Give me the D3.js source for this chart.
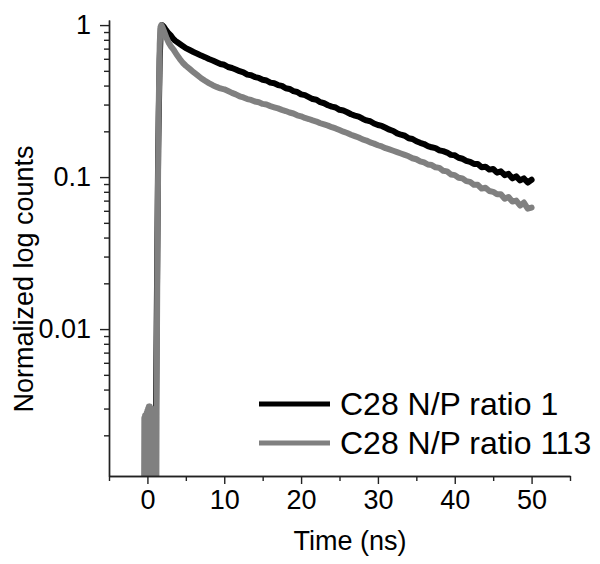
<!DOCTYPE html>
<html>
<head>
<meta charset="utf-8">
<script src="https://cdn.jsdelivr.net/npm/d3@7/dist/d3.min.js"></script>
<style>
  html, body { margin: 0; padding: 0; background: #fff; }
  svg { display: block; font-family: "Liberation Sans", Arial, sans-serif; }
</style>
</head>
<body>
<svg id="chart" width="600" height="564"></svg>
<script>
// ---- Data ----
const seriesNames = ["C28 N/P ratio 1", "C28 N/P ratio 113"];
const seriesColors = ["#000000", "#808080"];

// Time (ns), normalized counts — N/P ratio 1
const timeRatio1 = [1.0, 1.2, 1.4, 1.6, 1.75, 1.9, 2.1, 2.4, 2.7, 3.0, 3.3, 3.6, 4.0, 4.5, 5.0, 5.5, 6.0, 6.5, 7.0, 7.5, 8.0, 8.5, 9.0, 9.5,
  10.0, 10.5, 11.0, 11.5, 12.0, 12.5, 13.0, 13.5, 14.0, 14.5, 15.0, 15.5, 16.0, 16.5, 17.0, 17.5, 18.0, 18.5, 19.0, 19.5,
  20.0, 20.5, 21.0, 21.5, 22.0, 22.5, 23.0, 23.5, 24.0, 24.5, 25.0, 25.5, 26.0, 26.5, 27.0, 27.5, 28.0, 28.5, 29.0, 29.5,
  30.0, 30.5, 31.0, 31.5, 32.0, 32.5, 33.0, 33.5, 34.0, 34.5, 35.0, 35.5, 36.0, 36.5, 37.0, 37.5, 38.0, 38.5, 39.0, 39.5,
  40.0, 40.5, 41.0, 41.5, 42.0, 42.5, 43.0, 43.5, 44.0, 44.5, 45.0, 45.5, 46.0, 46.5, 47.0, 47.5, 48.0, 48.5, 49.0, 49.5, 50.0];
const countsRatio1 = [0.0005, 0.01, 0.15, 0.6, 0.95, 1.0, 0.98, 0.93, 0.89, 0.86, 0.82, 0.79, 0.765, 0.735, 0.705, 0.685, 0.665, 0.648, 0.63, 0.615, 0.598, 0.585, 0.57, 0.555,
  0.548, 0.530, 0.522, 0.510, 0.497, 0.488, 0.472, 0.468, 0.455, 0.449, 0.437, 0.432, 0.418, 0.414, 0.403, 0.398, 0.384, 0.380, 0.368, 0.363,
  0.350, 0.346, 0.336, 0.326, 0.323, 0.311, 0.306, 0.297, 0.291, 0.287, 0.277, 0.274, 0.267, 0.259, 0.254, 0.250, 0.242, 0.236, 0.233, 0.225,
  0.220, 0.217, 0.211, 0.205, 0.201, 0.194, 0.190, 0.187, 0.180, 0.178, 0.172, 0.168, 0.165, 0.160, 0.157, 0.155, 0.150, 0.148, 0.145, 0.140,
  0.139, 0.134, 0.132, 0.128, 0.126, 0.122, 0.122, 0.116, 0.117, 0.112, 0.113, 0.107, 0.109, 0.103, 0.105, 0.098, 0.101, 0.095, 0.098, 0.092, 0.096];

// Time (ns), normalized counts — N/P ratio 113
const timeRatio113 = [-0.45, -0.4, -0.35, -0.3, -0.25, -0.2, -0.15, -0.1, -0.05, 0.0, 0.05, 0.1, 0.15, 0.2, 0.25, 0.3, 0.35, 0.4, 0.45, 0.5,
  0.55, 0.6, 0.65, 0.7, 0.75, 0.8, 0.85, 0.9, 0.95, 1.0, 1.05, 1.1, 1.15, 1.2, 1.3, 1.45, 1.6, 1.7, 1.8, 1.95,
  2.2, 2.5, 2.8, 3.1, 3.4, 3.8, 4.2, 4.6, 5.0, 5.5, 6.0, 6.5, 7.0, 7.5, 8.0, 8.5, 9.0, 9.5,
  10.0, 10.5, 11.0, 11.5, 12.0, 12.5, 13.0, 13.5, 14.0, 14.5, 15.0, 15.5, 16.0, 16.5, 17.0, 17.5, 18.0, 18.5, 19.0, 19.5,
  20.0, 20.5, 21.0, 21.5, 22.0, 22.5, 23.0, 23.5, 24.0, 24.5, 25.0, 25.5, 26.0, 26.5, 27.0, 27.5, 28.0, 28.5, 29.0, 29.5,
  30.0, 30.5, 31.0, 31.5, 32.0, 32.5, 33.0, 33.5, 34.0, 34.5, 35.0, 35.5, 36.0, 36.5, 37.0, 37.5, 38.0, 38.5, 39.0, 39.5,
  40.0, 40.5, 41.0, 41.5, 42.0, 42.5, 43.0, 43.5, 44.0, 44.5, 45.0, 45.5, 46.0, 46.5, 47.0, 47.5, 48.0, 48.5, 49.0, 49.5, 50.0];
const countsRatio113 = [0.0004, 0.0026, 0.0005, 0.0027, 0.0006, 0.0027, 0.0004, 0.0028, 0.0005, 0.0029, 0.0006, 0.0030, 0.0005, 0.0031, 0.0006, 0.0031, 0.0005, 0.0030, 0.0006, 0.0030,
  0.0005, 0.0028, 0.0006, 0.0027, 0.0005, 0.0026, 0.0006, 0.0027, 0.0005, 0.0028, 0.0006, 0.0030, 0.0005, 0.004, 0.03, 0.25, 0.75, 0.97, 1.0, 0.97,
  0.90, 0.82, 0.76, 0.72, 0.69, 0.64, 0.60, 0.565, 0.54, 0.515, 0.49, 0.468, 0.447, 0.43, 0.415, 0.402, 0.392, 0.383,
  0.378, 0.368, 0.358, 0.350, 0.340, 0.334, 0.326, 0.322, 0.314, 0.311, 0.303, 0.300, 0.293, 0.288, 0.283, 0.277, 0.272, 0.266, 0.262, 0.255,
  0.251, 0.245, 0.241, 0.236, 0.232, 0.226, 0.222, 0.218, 0.213, 0.209, 0.204, 0.199, 0.195, 0.190, 0.186, 0.182, 0.177, 0.174, 0.169, 0.166,
  0.162, 0.159, 0.155, 0.152, 0.149, 0.146, 0.143, 0.140, 0.137, 0.133, 0.131, 0.127, 0.125, 0.121, 0.120, 0.116, 0.115, 0.110, 0.109, 0.104,
  0.103, 0.099, 0.098, 0.094, 0.093, 0.089, 0.089, 0.084, 0.085, 0.081, 0.080, 0.077, 0.077, 0.072, 0.074, 0.069, 0.070, 0.065, 0.068, 0.062, 0.063];

const xMajorTicks = [0, 10, 20, 30, 40, 50];
const xMinorTicks = [-5, 5, 15, 25, 35, 45, 55];
const yMajorTicks = [1, 0.1, 0.01];
const yTickLabels = ["1", "0.1", "0.01"];
const yMinorTicks = [0.002, 0.003, 0.004, 0.005, 0.006, 0.007, 0.008, 0.009,
  0.02, 0.03, 0.04, 0.05, 0.06, 0.07, 0.08, 0.09,
  0.2, 0.3, 0.4, 0.5, 0.6, 0.7, 0.8, 0.9];

// ---- Layout ----
const svg = d3.select("#chart");
const plotLeft = 109, plotRight = 570, plotTop = 20, plotBottom = 476;
const x = d3.scaleLinear().domain([-5, 55]).range([plotLeft, plotRight]);
const y = d3.scaleLog().domain([0.00108, 1.08]).range([plotBottom, plotTop]);

const axisColor = "#222";

// clip
svg.append("defs").append("clipPath").attr("id", "plotclip")
  .append("rect").attr("x", plotLeft).attr("y", plotTop - 5)
  .attr("width", plotRight - plotLeft).attr("height", plotBottom - plotTop + 5);

// series
const line = d3.line().x(d => x(d[0])).y(d => y(d[1]));
const series = [
  d3.zip(timeRatio1, countsRatio1),
  d3.zip(timeRatio113, countsRatio113)
];
const g = svg.append("g").attr("clip-path", "url(#plotclip)");
series.forEach((s, i) => {
  g.append("path").datum(s)
    .attr("d", line)
    .attr("fill", "none")
    .attr("stroke", seriesColors[i])
    .attr("stroke-width", 6)
    .attr("stroke-linejoin", "round")
    .attr("stroke-linecap", "round");
});

// axes
const xAxisMajor = d3.axisBottom(x).tickValues(xMajorTicks).tickSize(8).tickSizeOuter(0).tickFormat(d3.format("d")).tickPadding(6);
const xAxisMinor = d3.axisBottom(x).tickValues(xMinorTicks).tickSize(5).tickSizeOuter(0).tickFormat("");
const yAxisMajor = d3.axisLeft(y).tickValues(yMajorTicks).tickSize(9).tickSizeOuter(0)
  .tickFormat((d, i) => yTickLabels[i]).tickPadding(9);
const yAxisMinor = d3.axisLeft(y).tickValues(yMinorTicks).tickSize(5).tickSizeOuter(0).tickFormat("");

function styleAxis(sel) {
  sel.select(".domain").attr("stroke", axisColor).attr("stroke-width", 1.4);
  sel.selectAll(".tick line").attr("stroke", axisColor).attr("stroke-width", 1.4);
  sel.selectAll(".tick text").attr("fill", "#000").style("font-size", "27px")
    .style("font-family", "'Liberation Sans', Arial, sans-serif");
}

svg.append("g").attr("transform", `translate(0,${plotBottom})`).call(xAxisMinor).call(styleAxis);
svg.append("g").attr("transform", `translate(0,${plotBottom})`).call(xAxisMajor).call(styleAxis);
svg.append("g").attr("transform", `translate(${plotLeft},0)`).call(yAxisMinor).call(styleAxis);
svg.append("g").attr("transform", `translate(${plotLeft},0)`).call(yAxisMajor).call(styleAxis);

// axis titles
svg.append("text").attr("x", 350).attr("y", 550).attr("text-anchor", "middle")
  .style("font-size", "27px").attr("fill", "#000").text("Time (ns)");
svg.append("text").attr("transform", "translate(33,279) rotate(-90)").attr("text-anchor", "middle")
  .style("font-size", "27px").attr("fill", "#000").text("Normalized log counts");

// legend
const legendY = [404, 443];
seriesNames.forEach((name, i) => {
  svg.append("line").attr("x1", 259).attr("x2", 330).attr("y1", legendY[i]).attr("y2", legendY[i])
    .attr("stroke", seriesColors[i]).attr("stroke-width", 5);
  svg.append("text").attr("x", 340).attr("y", legendY[i] + 11)
    .style("font-size", "32px").attr("fill", "#000").text(name);
});
</script>
</body>
</html>
